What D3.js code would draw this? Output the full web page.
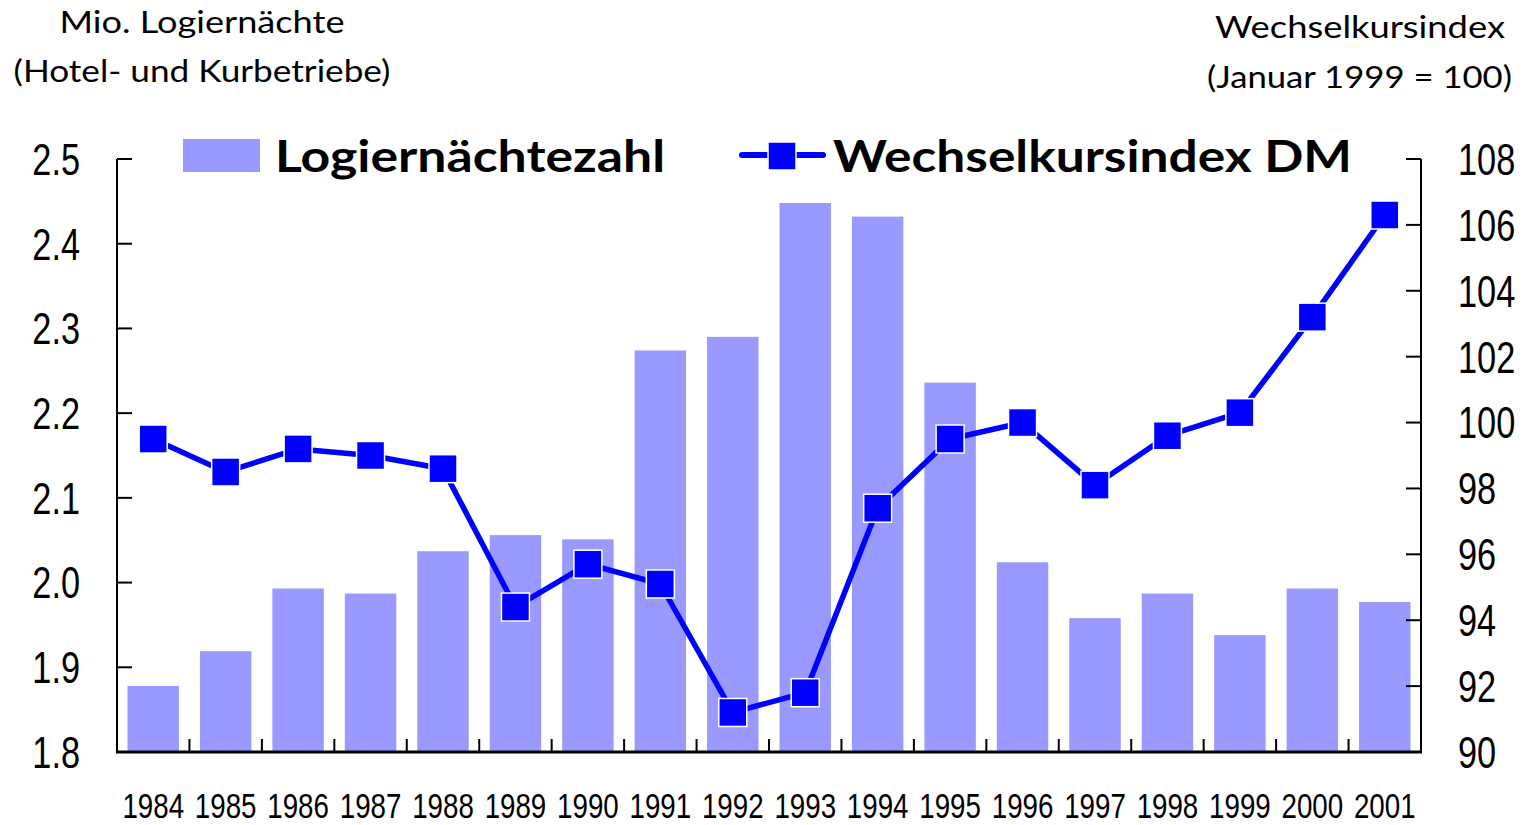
<!DOCTYPE html>
<html lang="de">
<head>
<meta charset="UTF-8">
<title>Logiernächte und Wechselkursindex</title>
<script src="https://d3js.org/d3.v7.min.js"></script>
<style>
  body { margin: 0; background: #fff; }
  .tick-num { font-family: "Liberation Sans", Arial, sans-serif; fill: #000; }
  .title { font-family: Lato, "Open Sans", sans-serif; fill: #000; }
</style>
</head>
<body>
<svg id="chart" width="1529" height="825"></svg>
<script>
    // data
    var years = ["1984","1985","1986","1987","1988","1989","1990","1991","1992",
                 "1993","1994","1995","1996","1997","1998","1999","2000","2001"];
    var nights = [1.878, 1.919, 1.993, 1.987, 2.037, 2.056, 2.051, 2.274, 2.290,
                  2.448, 2.432, 2.236, 2.024, 1.958, 1.987, 1.938, 1.993, 1.977];
    var fxIndex = [99.5, 98.5, 99.2, 99.0, 98.6, 94.4, 95.7, 95.1, 91.2,
                   91.8, 97.4, 99.5, 100.0, 98.1, 99.6, 100.3, 103.2, 106.3];
    var leftTicks = [1.8, 1.9, 2.0, 2.1, 2.2, 2.3, 2.4, 2.5];
    var rightTicks = [90, 92, 94, 96, 98, 100, 102, 104, 106, 108];

    var svg = d3.select("#chart");
    var plotL = 117, plotR = 1421, plotT = 159, plotB = 752;

    var x = d3.scaleBand().domain(years).range([plotL, plotR]).paddingInner(0.29).paddingOuter(0.145);
    var xb = d3.scaleBand().domain(years).range([plotL, plotR]); // for ticks at boundaries
    var yL = d3.scaleLinear().domain([1.8, 2.5]).range([plotB, plotT]);
    var yR = d3.scaleLinear().domain([90, 108]).range([plotB, plotT]);

    // bars
    svg.append("g").selectAll("rect")
        .data(years)
        .join("rect")
        .attr("x", d => x(d))
        .attr("width", x.bandwidth())
        .attr("y", (d, i) => yL(nights[i]))
        .attr("height", (d, i) => plotB - yL(nights[i]))
        .attr("fill", "#9999ff");

    // left axis
    var gl = svg.append("g");
    gl.append("line").attr("x1", plotL).attr("x2", plotL).attr("y1", plotT).attr("y2", plotB)
        .attr("stroke", "#000").attr("stroke-width", 2);
    gl.selectAll(".lt").data(leftTicks).join("line")
        .attr("x1", plotL).attr("x2", plotL + 15)
        .attr("y1", d => yL(d)).attr("y2", d => yL(d))
        .attr("stroke", "#000").attr("stroke-width", 2);
    gl.selectAll("text").data(leftTicks).join("text")
        .attr("class", "tick-num")
        .attr("transform", d => "translate(80," + yL(d) + ") scale(0.78,1)")
        .attr("dy", "0.36em")
        .attr("text-anchor", "end")
        .attr("font-size", "44px")
        .text(d => d3.format(".1f")(d));

    // right axis
    var gr = svg.append("g");
    gr.append("line").attr("x1", plotR).attr("x2", plotR).attr("y1", plotT).attr("y2", plotB)
        .attr("stroke", "#000").attr("stroke-width", 2);
    gr.selectAll(".rt").data(rightTicks).join("line")
        .attr("x1", plotR - 15).attr("x2", plotR)
        .attr("y1", d => yR(d)).attr("y2", d => yR(d))
        .attr("stroke", "#000").attr("stroke-width", 2);
    gr.selectAll("text").data(rightTicks).join("text")
        .attr("class", "tick-num")
        .attr("transform", d => "translate(1458," + yR(d) + ") scale(0.78,1)")
        .attr("dy", "0.36em")
        .attr("font-size", "44px")
        .text(d => d);

    // x axis
    var gx = svg.append("g");
    gx.append("line").attr("x1", plotL - 1).attr("x2", plotR + 1).attr("y1", plotB).attr("y2", plotB)
        .attr("stroke", "#000").attr("stroke-width", 3);
    gx.selectAll(".xt").data(years).join("line")
        .attr("x1", d => xb(d)).attr("x2", d => xb(d))
        .attr("y1", plotB).attr("y2", plotB - 13)
        .attr("stroke", "#000").attr("stroke-width", 2);
    gx.selectAll("text").data(years).join("text")
        .attr("class", "tick-num")
        .attr("transform", d => "translate(" + (xb(d) + xb.bandwidth() / 2) + ",818) scale(0.77,1)")
        .attr("text-anchor", "middle")
        .attr("font-size", "36px")
        .text(d => d);

    // line
    var lineGen = d3.line()
        .x((d, i) => xb(years[i]) + xb.bandwidth() / 2)
        .y(d => yR(d));
    svg.append("path")
        .datum(fxIndex)
        .attr("d", lineGen)
        .attr("fill", "none")
        .attr("stroke", "#0000ff")
        .attr("stroke-width", 5.5)
        .attr("stroke-linejoin", "round");
    svg.append("g").selectAll("rect")
        .data(fxIndex)
        .join("rect")
        .attr("x", (d, i) => xb(years[i]) + xb.bandwidth() / 2 - 14)
        .attr("y", d => yR(d) - 14)
        .attr("width", 28).attr("height", 28)
        .attr("fill", "#0000ff")
        .attr("stroke", "#fff").attr("stroke-width", 1.5);

    // axis titles
    svg.append("text").attr("class", "title").attr("x", 202).attr("y", 33)
        .attr("text-anchor", "middle").attr("font-size", "30px")
        .attr("textLength", 285).attr("lengthAdjust", "spacingAndGlyphs")
        .text("Mio. Logiernächte");
    svg.append("text").attr("class", "title").attr("x", 202).attr("y", 82)
        .attr("text-anchor", "middle").attr("font-size", "30px")
        .attr("textLength", 377).attr("lengthAdjust", "spacingAndGlyphs")
        .text("(Hotel- und Kurbetriebe)");
    svg.append("text").attr("class", "title").attr("x", 1505).attr("y", 38)
        .attr("text-anchor", "end").attr("font-size", "30px")
        .attr("textLength", 290).attr("lengthAdjust", "spacingAndGlyphs")
        .text("Wechselkursindex");
    svg.append("text").attr("class", "title").attr("x", 1512).attr("y", 88)
        .attr("text-anchor", "end").attr("font-size", "30px")
        .attr("textLength", 305).attr("lengthAdjust", "spacingAndGlyphs")
        .text("(Januar 1999 = 100)");

    // legend
    var lg = svg.append("g");
    lg.append("rect").attr("x", 183).attr("y", 139).attr("width", 77).attr("height", 33)
        .attr("fill", "#9999ff");
    lg.append("text").attr("class", "title").attr("x", 275).attr("y", 172)
        .attr("font-size", "44px").attr("font-weight", "bold")
        .attr("textLength", 390).attr("lengthAdjust", "spacingAndGlyphs")
        .text("Logiernächtezahl");
    lg.append("line").attr("x1", 742).attr("x2", 823).attr("y1", 155).attr("y2", 155)
        .attr("stroke", "#0000ff").attr("stroke-width", 6).attr("stroke-linecap", "round");
    lg.append("rect").attr("x", 768).attr("y", 142).attr("width", 28).attr("height", 28)
        .attr("fill", "#0000ff").attr("stroke", "#fff").attr("stroke-width", 1.5);
    lg.append("text").attr("class", "title").attr("x", 833).attr("y", 172)
        .attr("font-size", "44px").attr("font-weight", "bold")
        .attr("textLength", 519).attr("lengthAdjust", "spacingAndGlyphs")
        .text("Wechselkursindex DM");
</script>
</body>
</html>
